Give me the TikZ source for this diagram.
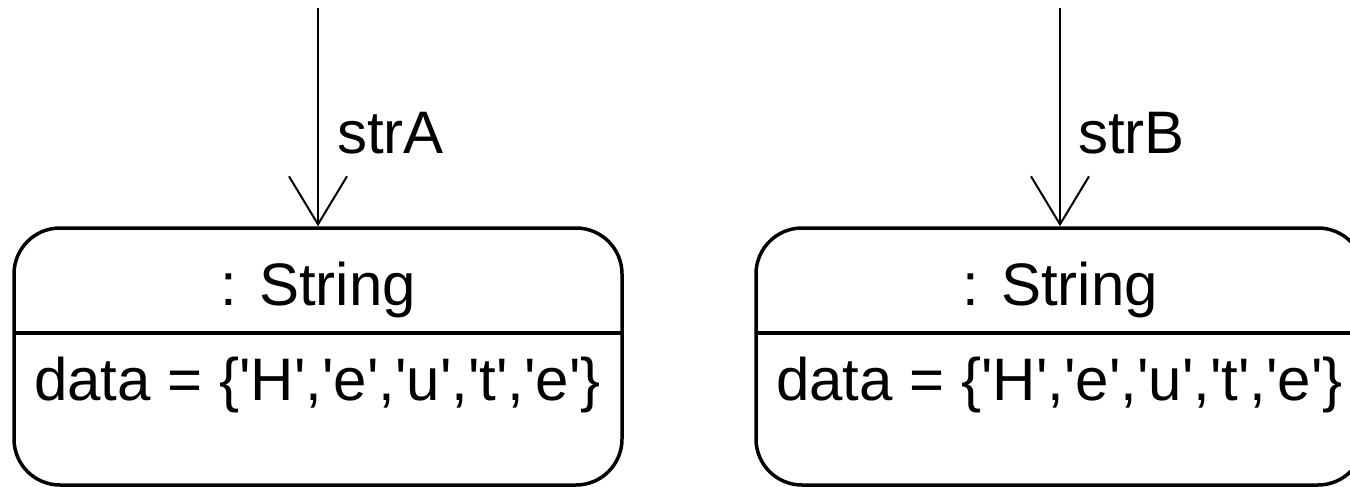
\documentclass[tikz,border=0pt]{standalone}
\usepackage{fontspec}
\setmainfont{Liberation Sans}
\usetikzlibrary{arrows.meta}

\newcommand{\sq}[1]{\textquotesingle#1\textquotesingle}

\tikzset{
    objbox/.style={draw, line width=3.5pt, rounded corners=46pt, minimum width=608pt, minimum height=257pt, inner sep=0pt},
    reflink/.style={line width=2.5pt, -{Straight Barb[length=48pt, width=58pt, line width=2pt]}},
    umltext/.style={font=\fontsize{60pt}{72pt}\selectfont, inner sep=0pt}
}

\begin{document}
\begin{tikzpicture}[x=1pt, y=-1pt]
    \useasboundingbox (0,0) rectangle (1350,487);

    \node [objbox] (boxA) at (318,356.5) {};
    \node [objbox] (boxB) at (1060,356.5) {};
    \node [umltext, anchor=base] (titleA) at (318,305) {: String};
    \node [umltext, anchor=base] (titleB) at (1060,305) {: String};
    \node [umltext, anchor=base west] (dataA) at (34,400) {data = \{\sq{H},\sq{e},\sq{u},\sq{t},\sq{e}\}};
    \node [umltext, anchor=base west] (dataB) at (776,400) {data = \{\sq{H},\sq{e},\sq{u},\sq{t},\sq{e}\}};
    \coordinate (divAl) at (14,333);
    \coordinate (divAr) at (622,333);
    \coordinate (divBl) at (756,333);
    \coordinate (divBr) at (1364,333);
    \coordinate (topA) at (318,8);
    \coordinate (topB) at (1060,8);
    \node [umltext, anchor=base west] (strA) at (337,153) {strA};
    \node [umltext, anchor=base west] (strB) at (1078,153) {strB};

    % Now draw the lines:
    \draw [line width=3.5pt] (divAl) -- (divAr);
    \draw [line width=3.5pt] (divBl) -- (divBr);
    \draw [reflink] (topA) -- (boxA.north);
    \draw [reflink] (topB) -- (boxB.north);
\end{tikzpicture}
\end{document}
